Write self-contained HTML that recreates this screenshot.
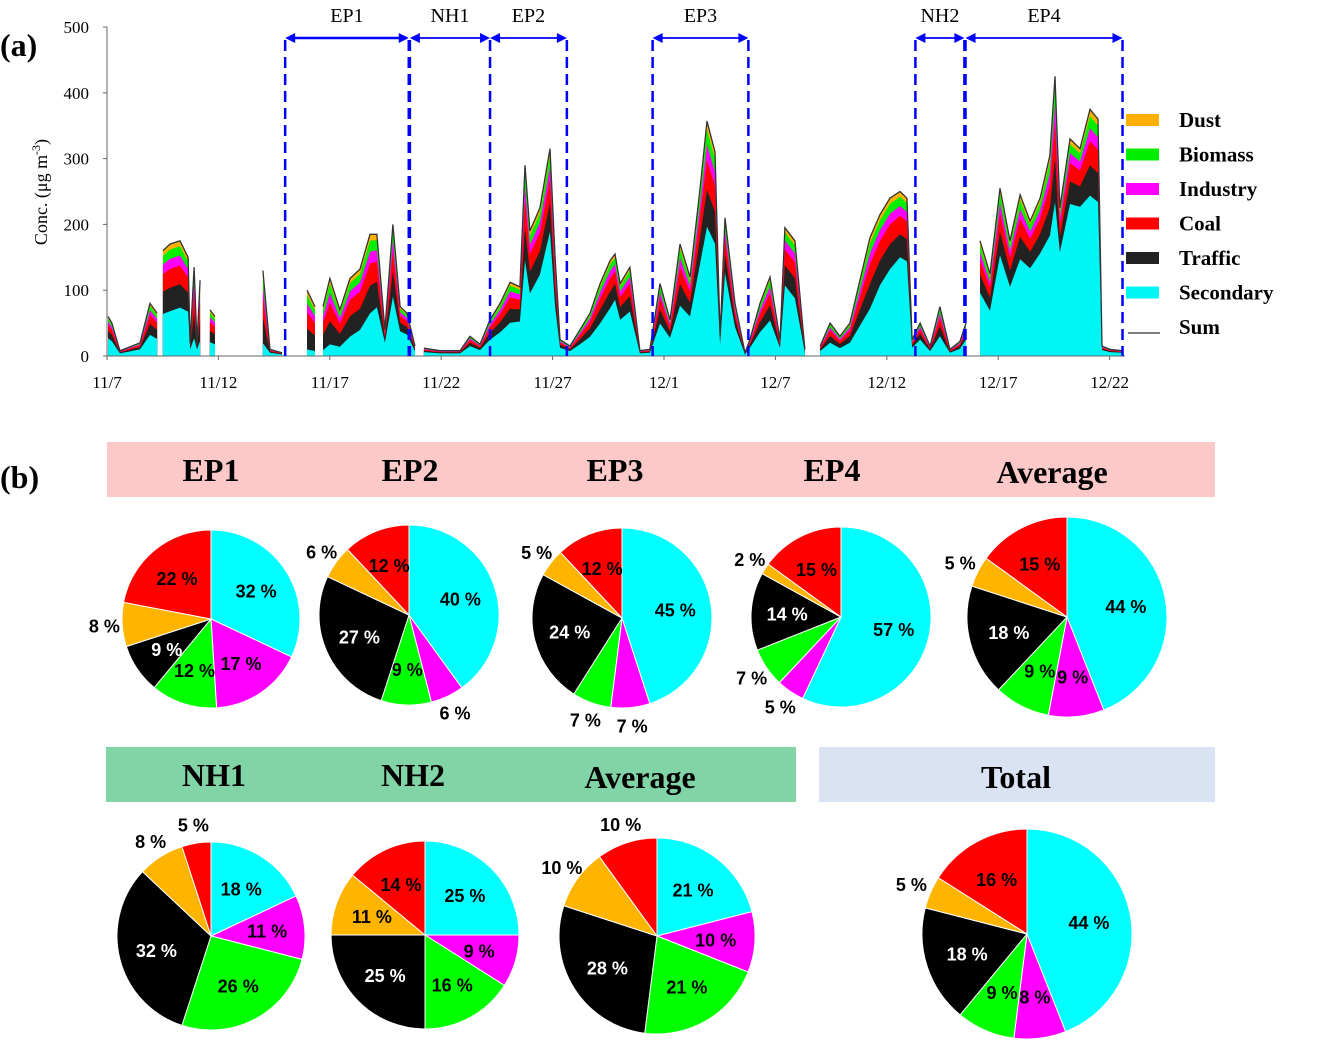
<!DOCTYPE html>
<html><head><meta charset="utf-8"><style>
html,body{margin:0;padding:0;background:#fff;}
svg{display:block;}
</style></head><body>
<svg id="fig" width="1335" height="1041" viewBox="0 0 1335 1041" xmlns="http://www.w3.org/2000/svg">
<g id="panelA"></g>
<g id="panelB"></g>
</svg>
<script>
// ---- Panel (a) data ----
const tDays = [0.05,0.22,0.58,1.03,1.48,1.93,2.25,2.3,2.51,2.83,3.28,3.64,3.73,3.91,4.04,4.18,4.31,4.62,4.85,4.94,7.0,7.32,7.86,7.95,8.98,9.34,9.47,9.7,10.01,10.46,10.91,11.36,11.81,12.12,12.48,12.84,13.16,13.47,13.83,14.05,14.23,14.95,15.85,16.3,16.75,17.2,17.65,18.1,18.54,18.77,18.99,19.44,19.89,20.12,20.34,20.79,21.24,21.69,22.14,22.59,22.81,23.04,23.48,23.93,24.38,24.83,25.28,25.73,26.18,26.63,26.94,27.3,27.53,27.75,28.2,28.65,28.87,29.32,29.77,30.22,30.44,30.89,31.34,31.57,32.02,32.47,32.91,33.36,33.81,34.26,34.71,35.16,35.61,35.92,36.15,36.51,36.96,37.4,37.85,38.3,38.57,38.75,39.2,39.65,40.1,40.55,41.0,41.45,41.9,42.34,42.57,42.79,43.24,43.69,44.14,44.5,44.68,45.04,45.58];
const sumConc = [60,50,8,14,20,80,65,null,160,170,175,150,20,135,20,115,null,70,60,null,130,10,5,null,100,75,null,75,118,70,118,132,185,185,40,200,75,65,15,null,12,8,8,30,18,55,80,112,105,290,190,225,315,150,25,15,40,65,110,145,155,110,135,8,10,110,55,170,120,255,357,310,30,210,80,5,25,80,120,25,195,175,10,null,15,50,30,50,115,180,215,240,250,240,25,50,15,75,10,22,50,null,175,125,255,175,245,205,240,305,425,225,330,315,375,360,15,10,8];
const secShare = [0.45,0.45,0.5,0.5,0.5,0.4,0.4,null,0.4,0.4,0.42,0.45,0.5,0.2,0.5,0.2,null,0.3,0.3,null,0.15,0.5,0.5,null,0.1,0.1,null,0.12,0.15,0.2,0.25,0.3,0.35,0.4,0.5,0.45,0.5,0.5,0.5,null,0.5,0.5,0.5,0.5,0.5,0.45,0.45,0.45,0.5,0.5,0.5,0.55,0.6,0.5,0.5,0.5,0.45,0.45,0.45,0.5,0.55,0.5,0.5,0.5,0.5,0.45,0.5,0.45,0.5,0.55,0.55,0.55,0.6,0.6,0.55,0.5,0.5,0.45,0.45,0.5,0.55,0.5,0.5,null,0.5,0.4,0.4,0.4,0.4,0.4,0.5,0.55,0.6,0.6,0.5,0.5,0.5,0.4,0.5,0.5,0.5,null,0.55,0.55,0.6,0.6,0.6,0.65,0.65,0.6,0.55,0.7,0.7,0.72,0.65,0.65,0.6,0.6,0.6];
const restSplit = [0.35,0.28,0.15,0.14,0.08]; // traffic, coal, industry, biomass, dust
const xTickLabels = ["11/7","11/12","11/17","11/22","11/27","12/1","12/7","12/12","12/17","12/22"];
const yTicks = [0,100,200,300,400,500];
const periodNames = ["EP1","NH1","EP2","EP3","NH2","EP4"];
const periodStart = [8.0,13.6,17.2,24.5,36.3,38.55];
const periodEnd = [13.55,17.2,20.65,28.8,38.5,45.6];
const legendNames = ["Dust","Biomass","Industry","Coal","Traffic","Secondary","Sum"];

// ---- Panel (b) data ----
const pieTitles = ["EP1","EP2","EP3","EP4","Average","NH1","NH2","Average","Total"];
const secondaryPct = [32,40,45,57,44,18,25,21,44];
const industryPct  = [17,6,7,5,9,11,9,10,8];
const biomassPct   = [12,9,7,7,9,26,16,21,9];
const trafficPct   = [9,27,24,14,18,32,25,28,18];
const dustPct      = [8,6,5,2,5,8,11,10,5];
const coalPct      = [22,12,12,15,15,5,14,10,16];

const NS="http://www.w3.org/2000/svg";
function mk(tag, attrs, parent){const e=document.createElementNS(NS,tag);for(const k in attrs)e.setAttribute(k,attrs[k]);parent.appendChild(e);return e;}
const A=document.getElementById('panelA');
const B=document.getElementById('panelB');
const serif='"Liberation Serif", serif', sans='"Liberation Sans", sans-serif';

const X0=107, PXD=22.27, Y0=356, PXV=0.658;
const xs=d=>X0+d*PXD, ys=v=>Y0-v*PXV;
const layerColors=["#00f5f5","#222222","#ff0000","#ff00ff","#00ee00","#ffb000"];
const layerNames=["secondary-area","traffic-area","coal-area","industry-area","biomass-area","dust-area"];

let segs=[],cur=[];
for(let i=0;i<tDays.length;i++){ if(sumConc[i]===null){ if(cur.length)segs.push(cur); cur=[]; } else cur.push(i); }
if(cur.length)segs.push(cur);
function cum(i,k){ const s=sumConc[i], sec=secShare[i]; if(k===0) return s*sec; let c=s*sec; for(let j=0;j<k;j++) c+=s*(1-sec)*restSplit[j]; return c; }
for(let k=5;k>=0;k--){
  segs.forEach(sg=>{
    let d="";
    sg.forEach((i,n)=>{ d+=(n?"L":"M")+xs(tDays[i]).toFixed(1)+","+ys(cum(i,k)).toFixed(1); });
    d+="L"+xs(tDays[sg[sg.length-1]]).toFixed(1)+","+Y0+"L"+xs(tDays[sg[0]]).toFixed(1)+","+Y0+"Z";
    const p=mk('path',{d:d,fill:layerColors[k]},A);
    
    
  });
}
segs.forEach(sg=>{
  let d="";
  sg.forEach((i,n)=>{ d+=(n?"L":"M")+xs(tDays[i]).toFixed(1)+","+ys(sumConc[i]).toFixed(1); });
  const p=mk('path',{d:d,fill:'none',stroke:'#333','stroke-width':1.3},A);
  
  
});
let ax=mk('line',{x1:X0,y1:27,x2:X0,y2:Y0,stroke:'#666','stroke-width':1},A);

ax=mk('line',{x1:X0,y1:Y0,x2:1125,y2:Y0,stroke:'#666','stroke-width':1},A);

yTicks.forEach(v=>{
  mk('line',{x1:X0-4,y1:ys(v),x2:X0,y2:ys(v),stroke:'#666'},A);
  const t=mk('text',{x:X0-18,y:ys(v)+6,'text-anchor':'end','font-family':serif,'font-size':17},A);
  t.textContent=v;
  
  
});
xTickLabels.forEach((lab,i)=>{
  const x=X0+i*111.4;
  mk('line',{x1:x,y1:Y0,x2:x,y2:Y0+4,stroke:'#666'},A);
  const t=mk('text',{x:x,y:388,'text-anchor':'middle','font-family':serif,'font-size':17},A);
  t.textContent=lab;
  
  
});
let yl=mk('text',{x:0,y:0,transform:'translate(47,192) rotate(-90)','text-anchor':'middle','font-family':serif,'font-size':18},A);
yl.innerHTML='Conc. (μg m<tspan dy="-7" font-size="12">-3</tspan><tspan dy="7">)</tspan>';

let la=mk('text',{x:0,y:56,'font-family':serif,'font-size':32,'font-weight':'bold'},A);
la.textContent='(a)';
const bounds=new Set();
periodNames.forEach((nm,i)=>{
  const x1=xs(periodStart[i]), x2=xs(periodEnd[i]);
  [x1,x2].forEach(x=>{ const key=Math.round(x); if(!bounds.has(key)){bounds.add(key);
    const l=mk('line',{x1:x,y1:40,x2:x,y2:Y0,stroke:'#0000ff','stroke-width':2.5,'stroke-dasharray':'11,6'},A);
    }});
  const ay=38, w=i===0?2.5:1.8;
  const ar=mk('g',{},A);
  
  mk('line',{x1:x1+3,y1:ay,x2:x2-3,y2:ay,stroke:'#0000ff','stroke-width':w},ar);
  mk('path',{d:`M${x1},${ay}l10,-5v10z M${x2},${ay}l-10,-5v10z`,fill:'#0000ff'},ar);
  const t=mk('text',{x:(x1+x2)/2,y:22,'text-anchor':'middle','font-family':serif,'font-size':20},A);
  t.textContent=nm;
});
const legColors=["#ffb000","#00ee00","#ff00ff","#ff0000","#222222","#00f5f5"];
legendNames.forEach((nm,i)=>{
  const y=120+i*34.5;
  const g=mk('g',{},A);
  
  if(i<6) mk('rect',{x:1126,y:y-6,width:33,height:12,fill:legColors[i]},g);
  else mk('line',{x1:1128,y1:y+6,x2:1160,y2:y+6,stroke:'#333','stroke-width':1.3},g);
  const t=mk('text',{x:1179,y:y+7,'font-family':serif,'font-size':21,'font-weight':'bold'},g);
  t.textContent=nm;
});

let lb=mk('text',{x:0,y:488,'font-family':serif,'font-size':32,'font-weight':'bold'},B);
lb.textContent='(b)';
const banners=[[107,442,1108,55,'#fcc8c8','episode-banner'],[106,747,690,55,'#80d4a6','non-haze-banner'],[819,747,396,55,'#dae3f3','total-banner']];
banners.forEach(b=>{const r=mk('rect',{x:b[0],y:b[1],width:b[2],height:b[3],fill:b[4]},B);});
const titleX=[211,410,615,832,1052,214,413,640,1016];
const titleY=[481,481,481,481,483,786,786,788,788];
const pieCx=[211,409,622,841,1067,211,425,657,1027];
const pieCy=[619,615,618,617,617,936,935,936,934];
const pieR=[89,90,90,90,100,94,94,98,105];
const sliceColors=["#00ffff","#ff00ff","#00ff00","#000000","#ffb400","#ff0000"];
const sliceNames=["secondary","industry","biomass","traffic","dust","coal"];
pieTitles.forEach((tt,p)=>{
  const t=mk('text',{x:titleX[p],y:titleY[p],'text-anchor':'middle','font-family':serif,'font-size':32,'font-weight':'bold'},B);
  t.textContent=tt;
  const vals=[secondaryPct[p],industryPct[p],biomassPct[p],trafficPct[p],dustPct[p],coalPct[p]];
  const tot=vals.reduce((a,b)=>a+b,0);
  const cx=pieCx[p],cy=pieCy[p],r=pieR[p];
  const g=mk('g',{},B);
  
  let a=0;
  vals.forEach((v,k)=>{
    const a1=a, a2=a+v/tot*2*Math.PI; a=a2;
    const P=(ang,rr)=>[cx+rr*Math.sin(ang),cy-rr*Math.cos(ang)];
    const s=P(a1,r), e=P(a2,r);
    const path=mk('path',{d:`M${cx},${cy}L${s[0].toFixed(2)},${s[1].toFixed(2)}A${r},${r} 0 ${a2-a1>Math.PI?1:0} 1 ${e[0].toFixed(2)},${e[1].toFixed(2)}Z`,fill:sliceColors[k],stroke:'#fff','stroke-width':1},g);
    
    
    const inside = v>=8 && !(k>=4 && v<=10);
    const mid=(a1+a2)/2, lp=P(mid,inside?r*0.6:r*1.2);
    const lt=mk('text',{x:lp[0].toFixed(1),y:(lp[1]+7).toFixed(1),'text-anchor':'middle','font-family':sans,'font-size':18,'font-weight':'bold',fill:(inside&&k===3)?'#fff':'#000'},g);
    lt.textContent=v+' %';
    
    
  });
});
</script>
</body></html>
